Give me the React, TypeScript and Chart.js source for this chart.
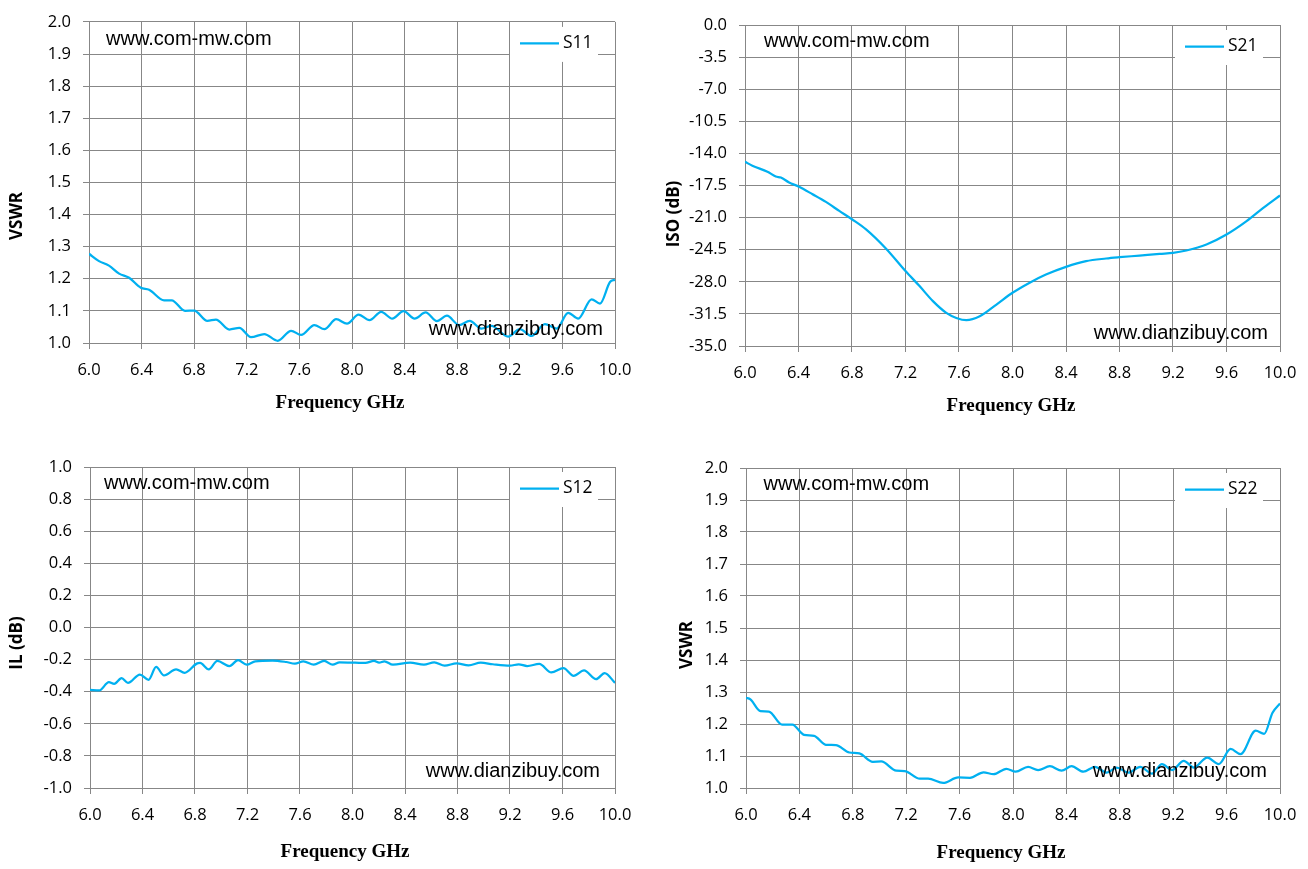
import React, { useEffect, useRef } from "react";
import { Chart, registerables } from "chart.js";

Chart.register(...registerables);

// ---------- data ----------
const xMin = 6.0;
const xMax = 10.0;
const xStep = 0.4;

const s11Freq = [6.0, 6.076, 6.152, 6.229, 6.305, 6.394, 6.457, 6.571, 6.629, 6.73, 6.8, 6.9, 6.965, 7.067, 7.143, 7.232, 7.333, 7.435, 7.537, 7.613, 7.714, 7.79, 7.88, 7.962, 8.05, 8.133, 8.222, 8.306, 8.392, 8.476, 8.56, 8.646, 8.722, 8.814, 8.895, 8.984, 9.06, 9.187, 9.276, 9.365, 9.467, 9.556, 9.644, 9.72, 9.822, 9.886, 9.962, 10.0];
const s11Vswr = [1.278, 1.255, 1.241, 1.216, 1.203, 1.172, 1.166, 1.133, 1.133, 1.100, 1.101, 1.069, 1.073, 1.042, 1.047, 1.018, 1.028, 1.007, 1.038, 1.025, 1.056, 1.043, 1.074, 1.060, 1.088, 1.071, 1.097, 1.076, 1.099, 1.076, 1.095, 1.068, 1.085, 1.056, 1.069, 1.045, 1.053, 1.020, 1.043, 1.022, 1.059, 1.045, 1.094, 1.076, 1.136, 1.123, 1.19, 1.197];

const s21Freq = [6.0, 6.055, 6.168, 6.23, 6.268, 6.33, 6.4, 6.505, 6.605, 6.705, 6.8, 6.905, 7.055, 7.2, 7.305, 7.405, 7.505, 7.58, 7.655, 7.755, 7.88, 8.0, 8.125, 8.25, 8.4, 8.55, 8.7, 8.8, 8.95, 9.1, 9.2, 9.3, 9.45, 9.6, 9.75, 9.875, 10.0];
const s21Iso = [-14.91, -15.35, -16.0, -16.52, -16.63, -17.17, -17.61, -18.45, -19.29, -20.27, -21.18, -22.28, -24.39, -26.83, -28.47, -30.11, -31.39, -31.94, -32.19, -31.76, -30.48, -29.2, -28.12, -27.21, -26.37, -25.75, -25.46, -25.32, -25.14, -24.95, -24.85, -24.59, -23.94, -22.85, -21.39, -19.94, -18.59];

const s12Freq = [6.0, 6.07, 6.144, 6.184, 6.241, 6.289, 6.38, 6.446, 6.504, 6.564, 6.656, 6.721, 6.813, 6.839, 6.905, 6.97, 7.062, 7.128, 7.193, 7.259, 7.39, 7.495, 7.561, 7.626, 7.705, 7.784, 7.849, 7.902, 8.02, 8.098, 8.164, 8.203, 8.243, 8.308, 8.439, 8.544, 8.623, 8.702, 8.793, 8.885, 8.977, 9.069, 9.2, 9.266, 9.331, 9.423, 9.515, 9.607, 9.685, 9.764, 9.856, 9.921, 10.0];
const s12Il = [-0.389, -0.392, -0.341, -0.352, -0.316, -0.345, -0.293, -0.326, -0.246, -0.299, -0.261, -0.282, -0.225, -0.221, -0.261, -0.208, -0.240, -0.204, -0.232, -0.211, -0.206, -0.215, -0.225, -0.211, -0.232, -0.208, -0.232, -0.217, -0.219, -0.221, -0.208, -0.219, -0.211, -0.232, -0.219, -0.232, -0.217, -0.238, -0.223, -0.236, -0.219, -0.229, -0.238, -0.229, -0.240, -0.227, -0.280, -0.253, -0.301, -0.267, -0.322, -0.284, -0.345];

const s22Freq = [6.0, 6.033, 6.108, 6.171, 6.271, 6.347, 6.435, 6.51, 6.598, 6.673, 6.774, 6.849, 6.95, 7.013, 7.126, 7.188, 7.302, 7.364, 7.477, 7.59, 7.678, 7.779, 7.854, 7.95, 8.02, 8.113, 8.188, 8.276, 8.364, 8.439, 8.527, 8.614, 8.702, 8.777, 8.865, 8.953, 9.041, 9.116, 9.191, 9.279, 9.354, 9.455, 9.542, 9.63, 9.705, 9.818, 9.881, 9.944, 10.0];
const s22Vswr = [1.282, 1.277, 1.240, 1.239, 1.198, 1.198, 1.166, 1.163, 1.135, 1.134, 1.111, 1.108, 1.082, 1.083, 1.054, 1.053, 1.029, 1.029, 1.016, 1.033, 1.032, 1.049, 1.043, 1.060, 1.051, 1.066, 1.056, 1.068, 1.054, 1.068, 1.051, 1.066, 1.048, 1.064, 1.048, 1.066, 1.045, 1.075, 1.056, 1.085, 1.064, 1.095, 1.075, 1.122, 1.106, 1.179, 1.169, 1.235, 1.264];

const xTitle = "Frequency GHz";
const watermarkTop = "www.com-mw.com";
const watermarkBottom = "www.dianzibuy.com";

// ---------- styling ----------
const LINE = "#00B0F0";
const GRID = "#878787";
const TICK_FONT = '"Open Sans"';

type Panel = {
  key: string;
  left: number; top: number; w: number; h: number;
  area: { l: number; t: number; r: number; b: number };
  label: string; freq: number[]; vals: number[];
  yMin: number; yMax: number; yStep: number;
  yTitle: string; yTitlePos: [number, number]; xTitlePos: [number, number];
  wm1: [number, number]; wm2: [number, number];
};

const panels: Panel[] = [
  { key: "a", left: 0, top: 0, w: 654, h: 434, area: { l: 89, t: 21, r: 615, b: 343 },
    label: "S11", freq: s11Freq, vals: s11Vswr, yMin: 1.0, yMax: 2.0, yStep: 0.1,
    yTitle: "VSWR", yTitlePos: [17, 216], xTitlePos: [340, 403], wm1: [17, 23], wm2: [12, 8] },
  { key: "b", left: 654, top: 0, w: 654, h: 434, area: { l: 91, t: 25, r: 626, b: 346 },
    label: "S21", freq: s21Freq, vals: s21Iso, yMin: -35, yMax: 0, yStep: 3.5,
    yTitle: "ISO (dB)", yTitlePos: [20.5, 214], xTitlePos: [357, 406], wm1: [19, 21.5], wm2: [12, 7.5] },
  { key: "c", left: 0, top: 434, w: 654, h: 435, area: { l: 90, t: 33, r: 615, b: 354 },
    label: "S12", freq: s12Freq, vals: s12Il, yMin: -1.0, yMax: 1.0, yStep: 0.2,
    yTitle: "IL (dB)", yTitlePos: [17, 209], xTitlePos: [345, 418], wm1: [14, 22], wm2: [15, 11.5] },
  { key: "d", left: 654, top: 434, w: 654, h: 435, area: { l: 92, t: 34, r: 626, b: 354 },
    label: "S22", freq: s22Freq, vals: s22Vswr, yMin: 1.0, yMax: 2.0, yStep: 0.1,
    yTitle: "VSWR", yTitlePos: [33, 211], xTitlePos: [347, 419], wm1: [17.5, 21.5], wm2: [13, 10.7] },
];

function makeDeco(p: Panel) {
  return {
    id: "deco_" + p.key,
    afterDatasetsDraw(chart: any) {
      const ctx = chart.ctx as CanvasRenderingContext2D;
      const a = chart.chartArea;
      ctx.save();
      // watermarks
      ctx.fillStyle = "#000";
      ctx.font = '20px "Liberation Sans"';
      ctx.textBaseline = "alphabetic";
      ctx.textAlign = "left";
      ctx.fillText(watermarkTop, a.left + p.wm1[0], a.top + p.wm1[1]);
      ctx.textAlign = "right";
      ctx.fillText(watermarkBottom, a.right - p.wm2[0], a.bottom - p.wm2[1]);
      // legend box
      ctx.fillStyle = "#fff";
      ctx.fillRect(a.right - 105, a.top + 5, 88, 35);
      ctx.strokeStyle = LINE;
      ctx.lineWidth = 2.25;
      ctx.beginPath();
      ctx.moveTo(a.right - 95, a.top + 21.5);
      ctx.lineTo(a.right - 56, a.top + 21.5);
      ctx.stroke();
      ctx.fillStyle = "#000";
      ctx.font = `17.5px ${TICK_FONT}`;
      ctx.textAlign = "left";
      ctx.textBaseline = "middle";
      ctx.fillText(p.label, a.right - 52, a.top + 21.5);
      ctx.restore();
    },
    afterDraw(chart: any) {
      const ctx = chart.ctx as CanvasRenderingContext2D;
      ctx.save();
      ctx.fillStyle = "#000";
      // x title
      ctx.font = 'bold 19px "Liberation Serif"';
      ctx.textAlign = "center";
      ctx.textBaseline = "middle";
      ctx.fillText(xTitle, p.xTitlePos[0], p.xTitlePos[1]);
      // y title
      ctx.translate(p.yTitlePos[0], p.yTitlePos[1]);
      ctx.rotate(-Math.PI / 2);
      ctx.font = `bold 17px ${TICK_FONT}`;
      ctx.fillText(p.yTitle, 0, 0);
      ctx.restore();
    },
  };
}

function PanelChart({ p }: { p: Panel }) {
  const ref = useRef<HTMLCanvasElement>(null);
  useEffect(() => {
    if (!ref.current) return;
    const X_AXIS_H = 40;
    const tickFont = { family: TICK_FONT, size: 16.5 };
    const chart = new Chart(ref.current, {
      type: "line",
      data: {
        datasets: [
          {
            label: p.label,
            data: p.freq.map((f, i) => ({ x: f, y: p.vals[i] })),
            borderColor: LINE,
            backgroundColor: LINE,
            borderWidth: 2.25,
            pointRadius: 0,
            cubicInterpolationMode: "monotone",
            fill: false,
          },
        ],
      },
      options: {
        animation: false,
        responsive: true,
        maintainAspectRatio: false,
        layout: {
          padding: {
            left: 0,
            top: p.area.t,
            right: p.w - p.area.r,
            bottom: p.h - p.area.b - X_AXIS_H,
          },
        },
        plugins: { legend: { display: false }, tooltip: { enabled: false }, title: { display: false } },
        scales: {
          x: {
            type: "linear",
            min: xMin,
            max: xMax,
            ticks: {
              stepSize: xStep,
              callback: (v: any) => Number(v).toFixed(1),
              font: tickFont,
              color: "#000",
              padding: 11,
              maxRotation: 0,
              autoSkip: false,
            },
            grid: { color: GRID, lineWidth: 1, tickLength: 6, drawTicks: true },
            border: { color: GRID, width: 1 },
            afterFit: (s: any) => { s.height = X_AXIS_H; },
          },
          y: {
            type: "linear",
            min: p.yMin,
            max: p.yMax,
            ticks: {
              stepSize: p.yStep,
              callback: (v: any) => Number(v).toFixed(1),
              font: tickFont,
              color: "#000",
              padding: 12,
              autoSkip: false,
            },
            grid: { color: GRID, lineWidth: 1, tickLength: 6, drawTicks: true },
            border: { color: GRID, width: 1 },
            afterFit: (s: any) => { s.width = p.area.l; },
          },
        },
      },
      plugins: [makeDeco(p)],
    } as any);
    return () => chart.destroy();
  }, [p]);
  return (
    <div style={{ position: "absolute", left: p.left, top: p.top, width: p.w, height: p.h }}>
      <canvas ref={ref} />
    </div>
  );
}

export default function App() {
  return (
    <div style={{ position: "absolute", left: 0, top: 0, width: 1308, height: 869, background: "#fff", overflow: "hidden" }}>
      {panels.map((p) => (
        <PanelChart key={p.key} p={p} />
      ))}
    </div>
  );
}
